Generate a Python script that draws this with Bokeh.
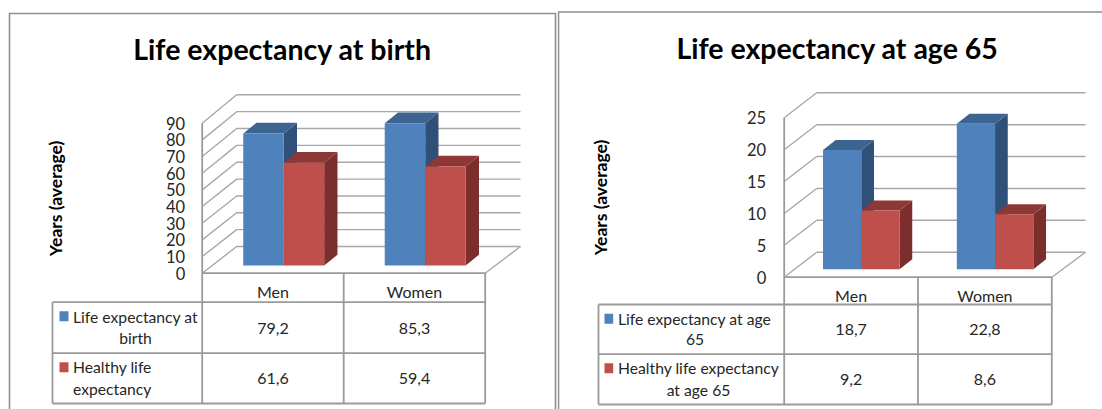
from bokeh.plotting import figure
from bokeh.layouts import row
from bokeh.embed import file_html
from bokeh.resources import INLINE
from bokeh.models import Range1d, FixedTicker
from bokeh.core.properties import value

categories = ["Men", "Women"]

title_birth = "Life expectancy at birth"
names_birth = ["Life expectancy at birth", "Healthy life expectancy"]
life_birth = [79.2, 85.3]
healthy_birth = [61.6, 59.4]
ticks_birth = [0, 10, 20, 30, 40, 50, 60, 70, 80, 90]

title_65 = "Life expectancy at age 65"
names_65 = ["Life expectancy at age 65", "Healthy life expectancy at age 65"]
life_65 = [18.7, 22.8]
healthy_65 = [9.2, 8.6]
ticks_65 = [0, 5, 10, 15, 20, 25]

axis_title = "Years (average)"
BLUE = ("#4F81BD", "#3D6491", "#2F5078")
RED = ("#BE4F4A", "#8E3836", "#7B2E2C")
GRID = "#a8a8a8"
RULE = "#9a9a9a"
INK = "#262626"
FONT = "Lato"
FIG_TOP = 0
FIG_H = 409


def chart(fig_left, fig_w, x0, col_w, y0, sc, back_dx, back_base, back_k, right_back, inset,
          bar_dx, bar_dy, ticks, series, title, title_xy, ytitle_x, ytitle_y, table, legend,
          border_pts, tick_standoff):
    fx = lambda px: (px - x0) / col_w
    fy = lambda py: (y0 - py) / sc
    p = figure(width=fig_w, height=FIG_H, output_backend="svg", toolbar_location=None,
               x_range=Range1d(fx(fig_left), fx(fig_left + fig_w)),
               y_range=Range1d(fy(FIG_TOP + FIG_H), fy(FIG_TOP)),
               min_border=0, background_fill_color="white", border_fill_color="white")
    p.outline_line_color = None
    p.grid.visible = False

    # y axis on the wall's front edge
    ya = p.yaxis[0]
    ya.fixed_location = 0
    ya.ticker = FixedTicker(ticks=ticks)
    ya.axis_line_color = None
    ya.major_tick_line_color = None
    ya.minor_tick_line_color = None
    ya.major_label_standoff = tick_standoff
    ya.major_label_text_font = FONT
    ya.major_label_text_font_size = "16.5px"
    ya.major_label_text_color = INK

    # category axis on the table's header row
    xa = p.xaxis[0]
    xa.fixed_location = 0
    xa.ticker = FixedTicker(ticks=[i + 0.5 for i in range(len(categories))])
    xa.major_label_overrides = {i + 0.5: c for i, c in enumerate(categories)}
    xa.axis_line_color = None
    xa.major_tick_line_color = None
    xa.minor_tick_line_color = None
    xa.major_label_standoff = 3
    xa.major_label_text_font = FONT
    xa.major_label_text_font_size = "16px"
    xa.major_label_text_color = INK

    # panel border
    p.line([fx(a) for a, _ in border_pts], [fy(b) for _, b in border_pts],
           line_color="#8f8f8f", line_width=1.6)

    # walls: one bent line for each tick
    bdx = back_dx / col_w
    rx = (right_back - x0) / col_w
    byb = (y0 - back_base) / sc
    n = len(categories)
    p.multi_line([[0, bdx, rx] for _ in ticks],
                 [[t, byb + t * back_k, byb + t * back_k] for t in ticks],
                 line_color=GRID, line_width=1.4)
    p.line([n, rx], [0, byb], line_color=GRID, line_width=1.4)

    # 3D bars
    gap, bw = 0.29, 0.286
    ddx, ddy = bar_dx / col_w, bar_dy / sc
    ins = inset / sc
    xs, ys, cols = [], [], []
    for i in range(n):
        for j, (vals, col) in enumerate(zip(series, (BLUE, RED))):
            a = i + gap + j * bw
            b = a + bw
            v = vals[i] + ins
            xs.append([b, b + ddx, b + ddx, b]); ys.append([ins, ins + ddy, v + ddy, v]); cols.append(col[2])
            xs.append([a, a + ddx, b + ddx, b]); ys.append([v, v + ddy, v + ddy, v]); cols.append(col[1])
            xs.append([a, b, b, a]); ys.append([ins, ins, v, v]); cols.append(col[0])
    p.patches(xs, ys, fill_color=cols, line_color=None)

    # data table rules
    leg_l, head_t, row1, row2, row3 = table
    seg_x = [[fx(leg_l), n], [fx(leg_l), n], [fx(leg_l), n], [0, n]]
    seg_y = [[fy(row1), fy(row1)], [fy(row2), fy(row2)], [fy(row3), fy(row3)], [0, 0]]
    for c in range(0, n + 1):
        seg_x.append([c, c])
        seg_y.append([ticks[-1] if c == 0 else 0, fy(row3)])
    seg_x.append([fx(leg_l), fx(leg_l)])
    seg_y.append([fy(row1), fy(row3)])
    p.multi_line(seg_x, seg_y, line_color=RULE, line_width=1.8)

    # table values
    cell_y = [(row1 + row2) / 2, (row2 + row3) / 2]
    tx, ty, tt = [], [], []
    for k, vals in enumerate(series):
        for i, v in enumerate(vals):
            tx.append(i + 0.5); ty.append(fy(cell_y[k] + 0.5)); tt.append(f"{v:.1f}".replace(".", ","))
    p.text(tx, ty, text=tt, text_font=value(FONT), text_font_size="16px", text_color=INK,
           text_align="center", text_baseline="middle")

    # legend keys and wrapped names
    swatch_x0, swatch_x1, swatch_ys, lines = legend
    for sy, col in zip(swatch_ys, (BLUE, RED)):
        p.quad(left=[fx(swatch_x0)], right=[fx(swatch_x1)], bottom=[fy(sy + 10)], top=[fy(sy)],
               fill_color=col[0], line_color=None)
    for txt, lx, ly, al in lines:
        p.text([fx(lx)], [fy(ly)], text=[txt], text_font=value(FONT), text_font_size="15.7px",
               text_color=INK, text_align=al, text_baseline="middle")

    # titles
    p.text([fx(title_xy[0])], [fy(title_xy[1])], text=[title], text_font=value(FONT),
           text_font_size="28.5px", text_font_style="bold", text_color="#000000",
           text_align="center", text_baseline="middle")
    p.text([fx(ytitle_x)], [fy(ytitle_y)], text=[axis_title], text_font=value(FONT),
           text_font_size="17.5px", text_font_style="bold", text_color="#000000", angle=1.5708,
           text_align="center", text_baseline="middle")
    return p


left = chart(0, 557, 201.7, 141.5, 272.7, 1.667, 34.5, 246, 1.011, 520, 7.7, 13.3, 10.7,
             ticks_birth, [life_birth, healthy_birth], title_birth, (282, 48), 55, 198,
             (52, 272.7, 301.7, 352.7, 403),
             (59, 68, [310.7, 361.7],
              [("Life expectancy at", 72.5, 316, "left"), ("birth", 135, 337, "center"),
               ("Healthy life", 72.5, 366, "left"), ("expectancy", 72.5, 388, "left")]),
             [(9, 500), (9, 13), (555, 13), (555, 500)], 11)

right = chart(557, 545, 783.7, 133.8, 276.7, 6.376, 32.5, 251.7, 1.0, 1085, 8, 12.7, 10,
              ticks_65, [life_65, healthy_65], title_65, (837, 47), 600, 197,
              (598, 276.7, 304, 353.7, 404),
              (604, 612.7, [313.3, 362.7],
               [("Life expectancy at age", 617.5, 318, "left"), ("65", 694.5, 339, "center"),
                ("Healthy life expectancy", 617.5, 367.7, "left"), ("at age 65", 698, 389, "center")]),
              [(558, 500), (558, 11.5), (1102, 11.5)], 12)

page = row(left, right, spacing=0)
open("out.html", "w").write(file_html(page, INLINE))
